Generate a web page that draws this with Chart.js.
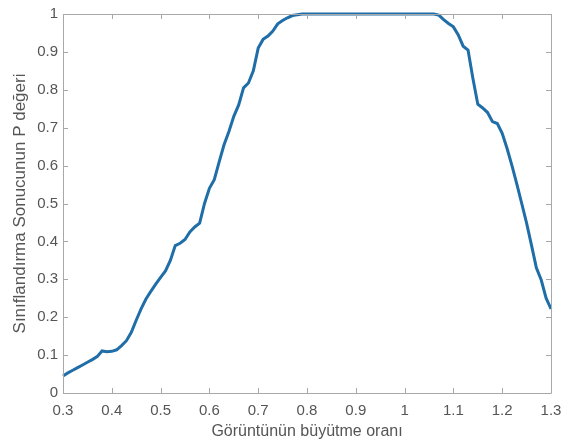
<!DOCTYPE html>
<html>
<head>
<meta charset="utf-8">
<script src="https://cdn.jsdelivr.net/npm/chart.js@4/dist/chart.umd.min.js"></script>
<style>
  html, body { margin: 0; padding: 0; background: #ffffff; }
  #wrap { width: 574px; height: 445px; position: relative; }
</style>
</head>
<body>
<div id="wrap"><canvas id="c" width="574" height="445"></canvas></div>
<script>
// Zoom ratio (x) values
const zoomRatios = [
  0.30,0.31,0.32,0.33,0.34,0.35,0.36,0.37,0.38,0.39,
  0.40,0.41,0.42,0.43,0.44,0.45,0.46,0.47,0.48,0.49,
  0.50,0.51,0.52,0.53,0.54,0.55,0.56,0.57,0.58,0.59,
  0.60,0.61,0.62,0.63,0.64,0.65,0.66,0.67,0.68,0.69,
  0.70,0.71,0.72,0.73,0.74,0.75,0.76,0.77,0.78,0.79,
  0.80,0.81,0.82,0.83,0.84,0.85,0.86,0.87,0.88,0.89,
  0.90,0.91,0.92,0.93,0.94,0.95,0.96,0.97,0.98,0.99,
  1.00,1.01,1.02,1.03,1.04,1.05,1.06,1.07,1.08,1.09,
  1.10,1.11,1.12,1.13,1.14,1.15,1.16,1.17,1.18,1.19,
  1.20,1.21,1.22,1.23,1.24,1.25,1.26,1.27,1.28,1.29,
  1.30
];
// Classification P value (y) values
const pValues = [
  0.045,0.053,0.060,0.067,0.074,0.081,0.088,0.096,0.111,0.109,
  0.110,0.114,0.125,0.138,0.160,0.192,0.222,0.248,0.268,0.287,
  0.305,0.322,0.350,0.389,0.395,0.405,0.425,0.438,0.448,0.500,
  0.540,0.563,0.610,0.655,0.690,0.730,0.760,0.805,0.818,0.850,
  0.910,0.933,0.942,0.955,0.974,0.983,0.990,0.996,0.998,1.000,
  1.000,1.000,1.000,1.000,1.000,1.000,1.000,1.000,1.000,1.000,
  1.000,1.000,1.000,1.000,1.000,1.000,1.000,1.000,1.000,1.000,
  1.000,1.000,1.000,1.000,1.000,1.000,1.000,0.997,0.985,0.975,
  0.966,0.945,0.915,0.905,0.830,0.762,0.752,0.740,0.716,0.711,
  0.685,0.645,0.600,0.551,0.500,0.448,0.390,0.330,0.298,0.250,
  0.222
];
const xTicks = [0.3,0.4,0.5,0.6,0.7,0.8,0.9,1.0,1.1,1.2,1.3];
const yTicks = [0,0.1,0.2,0.3,0.4,0.5,0.6,0.7,0.8,0.9,1.0];
const xTitle = 'Görüntünün büyütme oranı';
const yTitle = 'Sınıflandırma Sonucunun P değeri';

const points = zoomRatios.map((x, i) => ({ x: x, y: pValues[i] }));

const fmt = v => String(Number(v.toFixed(1)));

const boxPlugin = {
  id: 'matlabBox',
  afterDatasetsDraw(chart) {
    const { ctx, chartArea: a, scales } = chart;
    ctx.save();
    ctx.strokeStyle = '#a8a8a8';
    ctx.lineWidth = 1;
    ctx.beginPath();
    ctx.rect(Math.round(a.left) + 0.5, Math.round(a.top) + 0.5,
             Math.round(a.right - a.left), Math.round(a.bottom - a.top));
    ctx.stroke();
    const L = 5;
    ctx.beginPath();
    xTicks.forEach(v => {
      const px = Math.round(scales.x.getPixelForValue(v)) + 0.5;
      ctx.moveTo(px, a.bottom); ctx.lineTo(px, a.bottom - L);
      ctx.moveTo(px, a.top); ctx.lineTo(px, a.top + L);
    });
    yTicks.forEach(v => {
      const py = Math.round(scales.y.getPixelForValue(v)) + 0.5;
      ctx.moveTo(a.left, py); ctx.lineTo(a.left + L, py);
      ctx.moveTo(a.right, py); ctx.lineTo(a.right - L, py);
    });
    ctx.stroke();
    ctx.restore();
  }
};

const FONT = 'Liberation Sans, Arial, sans-serif';

new Chart(document.getElementById('c'), {
  type: 'line',
  data: {
    datasets: [{
      data: points,
      borderColor: '#1f6ea8',
      borderWidth: 3,
      pointRadius: 0,
      tension: 0,
      fill: false,
      clip: 4
    }]
  },
  options: {
    responsive: false,
    animation: false,
    devicePixelRatio: 1,
    layout: { padding: { left: 0, right: 23, top: 12, bottom: 0 } },
    plugins: { legend: { display: false }, tooltip: { enabled: false } },
    scales: {
      x: {
        type: 'linear',
        min: 0.3, max: 1.3,
        afterBuildTicks: s => { s.ticks = xTicks.map(v => ({ value: v })); },
        afterFit: s => { s.height = 52; },
        grid: { display: false, drawTicks: false },
        border: { display: false },
        ticks: {
          color: '#555555',
          font: { family: FONT, size: 15 },
          padding: 9,
          maxRotation: 0,
          autoSkip: false,
          callback: v => fmt(v)
        },
        title: {
          display: true,
          text: xTitle,
          color: '#555555',
          font: { family: FONT, size: 16 },
          padding: { top: 2, bottom: 4 }
        }
      },
      y: {
        type: 'linear',
        min: 0, max: 1,
        afterBuildTicks: s => { s.ticks = yTicks.map(v => ({ value: v })); },
        afterFit: s => { s.width = 63; },
        grid: { display: false, drawTicks: false },
        border: { display: false },
        ticks: {
          color: '#555555',
          font: { family: FONT, size: 15 },
          padding: 5,
          autoSkip: false,
          callback: v => fmt(v)
        },
        title: {
          display: true,
          text: yTitle,
          color: '#555555',
          font: { family: FONT, size: 17 },
          padding: { top: 10, bottom: 0 }
        }
      }
    }
  },
  plugins: [boxPlugin]
});
</script>
</body>
</html>
